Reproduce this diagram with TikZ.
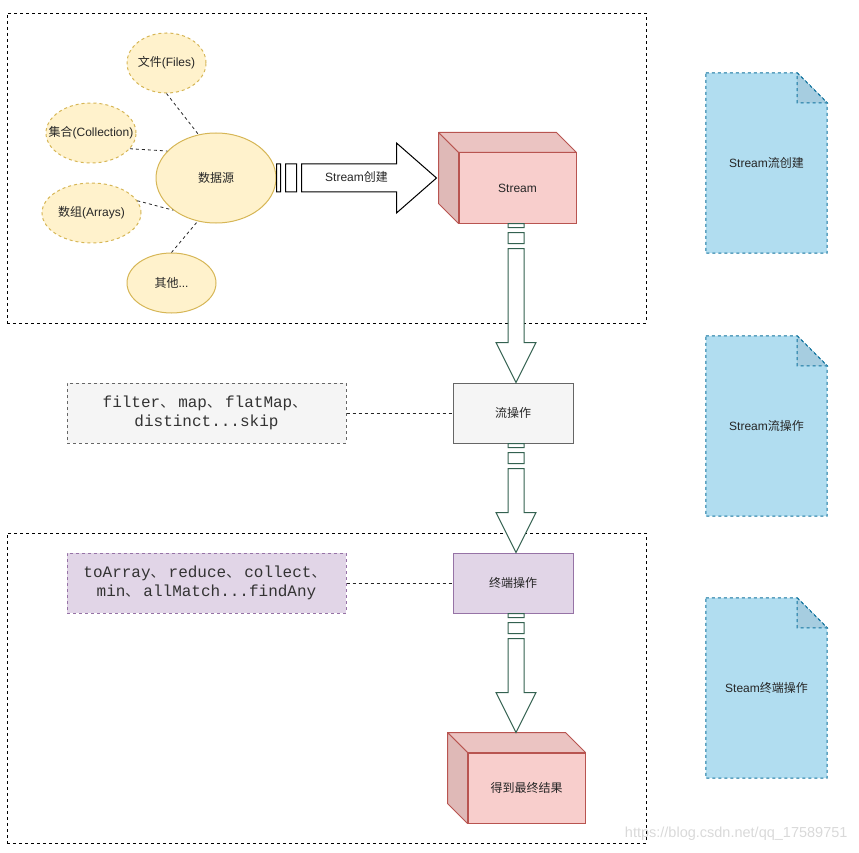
\documentclass[tikz,border=0pt]{standalone}
\usepackage{fontspec}
\setmainfont{Liberation Sans}
\setmonofont{Liberation Mono}
\newfontfamily\cjk{Noto Sans CJK SC}
\usetikzlibrary{shapes.geometric,calc}
\definecolor{ellfill}{HTML}{FFF2CC}
\definecolor{ellst}{HTML}{D6B656}
\definecolor{cubefront}{HTML}{F8CECC}
\definecolor{cubetop}{HTML}{EBC4C2}
\definecolor{cubeleft}{HTML}{DFB9B7}
\definecolor{cubest}{HTML}{B85450}
\definecolor{grayfill}{HTML}{F5F5F5}
\definecolor{grayst}{HTML}{666666}
\definecolor{purfill}{HTML}{E1D5E7}
\definecolor{purst}{HTML}{9673A6}
\definecolor{docfill}{HTML}{B1DDF0}
\definecolor{docfold}{HTML}{A6CDE0}
\definecolor{docst}{HTML}{10739E}
\definecolor{arrowg}{HTML}{336150}
\definecolor{txt}{HTML}{262626}
\definecolor{codetxt}{HTML}{333333}
\definecolor{wmark}{HTML}{D9D9D9}
\pgfdeclarelayer{bg}
\pgfsetlayers{bg,main}
\newcommand\sep{\makebox[18pt][l]{\cjk\fontsize{14}{19}\selectfont 、}}
\newcommand\ztext[1]{\makebox[0pt][c]{#1}}
\newcommand\vflex[2]{%
  \draw[arrowg, line width=1pt, fill=white] let \p1=(#1), \p2=(#2) in
    (\x1-8pt,\y1) rectangle (\x1+8pt,\y1-4pt)
    (\x1-8pt,\y1-9pt) rectangle (\x1+8pt,\y1-20pt)
    (\x1-8pt,\y1-25pt) -- (\x1-8pt,\y2+40pt) -- (\x1-20pt,\y2+40pt) -- (\x1,\y2)
    -- (\x1+20pt,\y2+40pt) -- (\x1+8pt,\y2+40pt) -- (\x1+8pt,\y1-25pt) -- cycle;}
\newcommand\cube[1]{%
  \begin{pgfonlayer}{bg}
  \draw[cubest, line width=1pt, fill=cubetop, line join=round] (#1.north west) -- ++(-20,-20) -- ($(#1.north east)+(-20,-20)$) -- (#1.north east) -- cycle;
  \draw[cubest, line width=1pt, fill=cubeleft, line join=round] (#1.north west) -- ++(-20,-20) -- ($(#1.south west)+(-20,-20)$) -- (#1.south west) -- cycle;
  \end{pgfonlayer}}
\newcommand\docshape[1]{%
  \begin{pgfonlayer}{bg}
  \draw[docst, fill=docfill, line width=1pt, dsh] (#1.north west) -- ($(#1.north east)+(-30,0)$) -- ($(#1.north east)+(0,30)$) -- (#1.south east) -- (#1.south west) -- cycle;
  \draw[docst, fill=docfold, line width=1pt, dsh] ($(#1.north east)+(-30,0)$) -- ($(#1.north east)+(0,30)$) -- ($(#1.north east)+(-30,30)$) -- cycle;
  \end{pgfonlayer}}
\begin{document}
\begin{tikzpicture}[x=1pt,y=-1pt,
  dsh/.style={dash pattern=on 3pt off 3pt},
  grp/.style={rectangle, draw=black, dsh, line width=0.8pt, inner sep=0pt},
  ell/.style={ellipse, draw=ellst, fill=ellfill, line width=1pt, inner sep=0pt, text=txt, font=\fontsize{12}{14}\selectfont},
  dline/.style={draw=black!85, dsh, line width=0.8pt},
  cubef/.style={rectangle, draw=cubest, fill=cubefront, line width=1pt, inner sep=0pt, minimum width=117, minimum height=70, text=txt, font=\fontsize{12}{14}\selectfont},
  opbox/.style={rectangle, line width=1pt, inner sep=0pt, minimum width=120, minimum height=60, text=txt, font=\fontsize{12}{14}\selectfont},
  codebox/.style={rectangle, line width=1pt, dsh, inner sep=0pt, minimum width=279, minimum height=60, align=center, text=codetxt, font=\ttfamily\fontsize{16}{19}\selectfont},
  docnode/.style={rectangle, inner sep=0pt, minimum width=121, minimum height=180, text=txt, font=\fontsize{12}{14}\selectfont}
]
\useasboundingbox (0,0) rectangle (859,853);

% groups
\node[grp, minimum width=639, minimum height=310] (g1) at (326.5,168) {};
\node[grp, minimum width=639, minimum height=310] (g2) at (326.5,688) {};

% data sources
\node[ell, dsh, minimum width=79, minimum height=60] (files) at (166.5,63) {\ztext{{\cjk 文件}(Files)}};
\node[ell, dsh, minimum width=90, minimum height=60] (coll) at (91,133) {\ztext{{\cjk 集合}(Collection)}};
\node[ell, dsh, minimum width=99, minimum height=60] (arr) at (91.5,213) {\ztext{{\cjk 数组}(Arrays)}};
\node[ell, minimum width=89, minimum height=60] (other) at (171.5,283) {\ztext{{\cjk 其他}...}};
\node[ell, minimum width=120, minimum height=90] (src) at (216,178) {\ztext{\cjk 数据源}};

\draw[dline] (files.-90) -- (src.112);
\draw[dline] (coll.-22) -- (src.151);
\draw[dline] (arr.15) -- (src.217);
\draw[dline] (other.90) -- (src.247);

% Stream cube
\node[cubef] (stream) at (517.5,188) {Stream};
\cube{stream}
\coordinate (tip) at ($(stream.west)+(-22,-10)$);

% creation arrow
\draw[black, line width=1pt, fill=white] let \p1=(src.east), \p2=(tip) in
  (\x1,\y1+14pt) rectangle (\x1+4pt,\y1-14pt)
  (\x1+9pt,\y1+14pt) rectangle (\x1+20pt,\y1-14pt)
  (\x1+25pt,\y1+14pt) -- (\x2-40pt,\y1+14pt) -- (\x2-40pt,\y1+35pt) -- (\x2,\y1)
  -- (\x2-40pt,\y1-35pt) -- (\x2-40pt,\y1-14pt) -- (\x1+25pt,\y1-14pt) -- cycle
  node[text=txt, font=\fontsize{12}{14}\selectfont] (clabel) at ({(\x1+\x2)/2},\y1+1pt) {Stream{\cjk 创建}};

% operation boxes
\node[opbox, draw=grayst, fill=grayfill] (op) at (513,413) {\cjk 流操作};
\node[opbox, draw=purst, fill=purfill] (term) at (513,583) {\cjk 终端操作};
\node[codebox, draw=grayst, fill=grayfill] (fbox) at (206.5,413) {filter\sep map\sep flatMap\sep\\distinct...skip};
\node[codebox, draw=purst, fill=purfill] (tbox) at (206.5,583) {toArray\sep reduce\sep collect\sep\\min\sep allMatch...findAny};
\draw[dline] (fbox.east) -- (op.west);
\draw[dline] (tbox.east) -- (term.west);

% result cube
\node[cubef] (result) at (526.5,788) {\cjk 得到最终结果};
\cube{result}
\coordinate (rtop) at ($(result.north)+(0,-20)$);

% vertical arrows
\coordinate (col) at (516,0);
\vflex{stream.south -| col}{op.north -| col}
\vflex{op.south -| col}{term.north -| col}
\vflex{term.south -| col}{rtop -| col}

% documents
\node[docnode] (d1) at (766.5,163) {Stream{\cjk 流创建}};
\docshape{d1}
\node[docnode] (d2) at (766.5,426) {Stream{\cjk 流操作}};
\docshape{d2}
\node[docnode] (d3) at (766.5,688) {Steam{\cjk 终端操作}};
\docshape{d3}

% watermark
\node[text=wmark, font=\fontsize{14.5}{16}\selectfont, anchor=east] (wm) at (851,834) {https://blog.csdn.net/qq\_17589751};
\end{tikzpicture}
\end{document}
